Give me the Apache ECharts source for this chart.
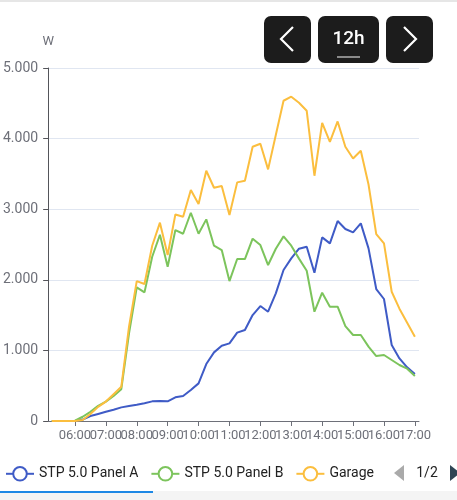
<!DOCTYPE html>
<html>
<head>
<meta charset="utf-8">
<script src="https://cdn.jsdelivr.net/npm/echarts@6/dist/echarts.min.js"></script>
<style>
  html, body { margin: 0; padding: 0; background: #fff; }
  #chart { width: 457px; height: 500px; }
</style>
</head>
<body>
<div id="chart"></div>
<script>
// 15-minute samples, 05:15 .. 17:00
const times = [
  '05:15', '05:30', '05:45', '06:00', '06:15', '06:30', '06:45', '07:00',
  '07:15', '07:30', '07:45', '08:00', '08:15', '08:30', '08:45', '09:00',
  '09:15', '09:30', '09:45', '10:00', '10:15', '10:30', '10:45', '11:00',
  '11:15', '11:30', '11:45', '12:00', '12:15', '12:30', '12:45', '13:00',
  '13:15', '13:30', '13:45', '14:00', '14:15', '14:30', '14:45', '15:00',
  '15:15', '15:30', '15:45', '16:00', '16:15', '16:30', '16:45', '17:00',
]
const panelA = [
  0, 0, 0, 0, 20, 70, 100, 130,
  160, 193, 212, 230, 252, 278, 283, 278,
  335, 354, 439, 533, 807, 972, 1067, 1100,
  1251, 1289, 1501, 1628, 1548, 1808, 2138, 2303,
  2440, 2469, 2100, 2601, 2516, 2832, 2719, 2671,
  2799, 2445, 1869, 1728, 1076, 887, 760, 666,
]
const panelB = [
  0, 0, 0, 5, 60, 130, 215, 275,
  355, 450, 1241, 1893, 1822, 2327, 2638, 2185,
  2705, 2652, 2950, 2652, 2856, 2483, 2421, 1982,
  2294, 2294, 2582, 2492, 2209, 2440, 2615, 2483,
  2300, 2129, 1548, 1817, 1619, 1619, 1345, 1218,
  1218, 1053, 920, 935, 864, 793, 741, 637,
]
const garage = [
  0, 0, 0, 0, 15, 100, 200, 275,
  380, 485, 1336, 1982, 1940, 2483, 2809, 2351,
  2926, 2894, 3271, 3073, 3545, 3304, 3328, 2917,
  3380, 3403, 3885, 3927, 3564, 4050, 4536, 4593,
  4508, 4394, 3474, 4224, 3955, 4243, 3885, 3719,
  3828, 3350, 2648, 2516, 1831, 1591, 1392, 1194,
]
const hourTicks = [
  '06:00', '07:00', '08:00', '09:00', '10:00', '11:00',
  '12:00', '13:00', '14:00', '15:00', '16:00', '17:00',
]
const seriesNames = ['STP 5.0 Panel A', 'STP 5.0 Panel B', 'Garage']
const colors = ['#3f5bc6', '#7cc45c', '#fbbe3e']
const legendPage = '1/2'

// the 12h window shown by the x axis
const windowStart = '05:08'
const windowEnd = '17:08'

const toMin = (t) => {
  const [h, m] = t.split(':').map(Number)
  return h * 60 + m
}
const fmtTime = (v) => {
  const h = Math.floor(v / 60), m = Math.round(v % 60)
  return String(h).padStart(2, '0') + ':' + String(m).padStart(2, '0')
}
// German grouping: 5000 -> "5.000"
const fmtW = (v) => String(v).replace(/\B(?=(\d{3})+(?!\d))/g, '.')

const tickMins = hourTicks.map(toMin)
const pairs = (vals) => times.map((t, i) => [toMin(t), vals[i]])

const font = 'Roboto, "Noto Sans", sans-serif'
const axisGrey = '#6e7079'

// The hour labels overlap each other (as in the original), and ECharts drops
// labels that collide with the first/last one. Split them over two axes that
// share the same range so every label is kept.
function hourAxis(values, visibleLine) {
  return {
    type: 'value',
    position: 'bottom',
    min: toMin(windowStart),
    max: toMin(windowEnd),
    splitLine: { show: false },
    axisLine: { show: visibleLine, lineStyle: { color: axisGrey } },
    axisTick: { show: visibleLine, customValues: tickMins, length: 5 },
    axisLabel: {
      customValues: values,
      formatter: fmtTime,
      fontSize: 13,
      color: axisGrey,
      margin: 8,
      showMinLabel: true,
      showMaxLabel: true,
    },
  }
}

// top-right navigation buttons, legend pager and bottom bar (plain graphics)
function decorations() {
  const dark = '#1c1c1c'
  const chevron = (pts) => ({
    type: 'polyline',
    shape: { points: pts },
    style: { stroke: '#fff', lineWidth: 2.2, fill: null },
  })
  return [
    { type: 'rect', shape: { x: 264, y: 16, width: 47, height: 47, r: 7 }, style: { fill: dark } },
    chevron([[293, 27], [281, 39], [293, 51]]),
    { type: 'rect', shape: { x: 318, y: 16, width: 61, height: 47, r: 7 }, style: { fill: dark } },
    {
      type: 'text', x: 348.5, y: 39.5,
      style: { text: '12h', fill: '#fff', font: '500 19px ' + font, align: 'center', verticalAlign: 'middle' },
    },
    { type: 'rect', shape: { x: 337, y: 56, width: 23, height: 2 }, style: { fill: '#8a8a8a' } },
    { type: 'rect', shape: { x: 386, y: 16, width: 47, height: 47, r: 7 }, style: { fill: dark } },
    chevron([[404, 27], [416, 39], [404, 51]]),
    // legend pager
    { type: 'polygon', shape: { points: [[404, 465], [394, 473], [404, 481]] }, style: { fill: '#aaa' } },
    {
      type: 'text', x: 427, y: 473,
      style: { text: legendPage, fill: '#222', font: '14px ' + font, align: 'center', verticalAlign: 'middle' },
    },
    { type: 'polygon', shape: { points: [[450, 465], [460, 473], [450, 481]] }, style: { fill: '#2f4554' } },
    // thin shadow on top and bar below the legend
    { type: 'rect', shape: { x: 0, y: 0, width: 457, height: 2 }, style: { fill: '#e6e6e6' } },
    { type: 'rect', shape: { x: 0, y: 491, width: 457, height: 9 }, style: { fill: '#f4f4f4' } },
    { type: 'rect', shape: { x: 0, y: 491, width: 153, height: 2 }, style: { fill: '#1e88e5' } },
  ]
}

const chart = echarts.init(document.getElementById('chart'))
chart.setOption({
  animation: false,
  textStyle: { fontFamily: font },
  color: colors,
  grid: { left: 45, right: 38, top: 68, bottom: 79 },
  legend: {
    data: seriesNames,
    left: 0,
    top: 461,
    itemWidth: 28,
    itemHeight: 17,
    itemGap: 12,
    textStyle: { fontSize: 14, color: '#222', fontFamily: font },
  },
  xAxis: [
    hourAxis(tickMins.filter((_, i) => i % 2 === 0), true),
    hourAxis(tickMins.filter((_, i) => i % 2 === 1), false),
  ],
  yAxis: {
    type: 'value',
    min: 0,
    max: 5000,
    interval: 1000,
    name: 'W',
    nameGap: 20,
    nameTextStyle: { fontSize: 13, color: axisGrey },
    splitLine: { lineStyle: { color: '#e0e6f1' } },
    axisLabel: { formatter: fmtW, fontSize: 14, color: axisGrey, margin: 10 },
  },
  series: [
    { name: seriesNames[0], data: pairs(panelA) },
    { name: seriesNames[1], data: pairs(panelB) },
    { name: seriesNames[2], data: pairs(garage) },
  ].map((s) => ({
    ...s,
    type: 'line',
    xAxisIndex: 0,
    symbol: 'emptyCircle',
    showSymbol: false,
    lineStyle: { width: 2 },
  })),
  graphic: decorations(),
})
</script>
</body>
</html>
